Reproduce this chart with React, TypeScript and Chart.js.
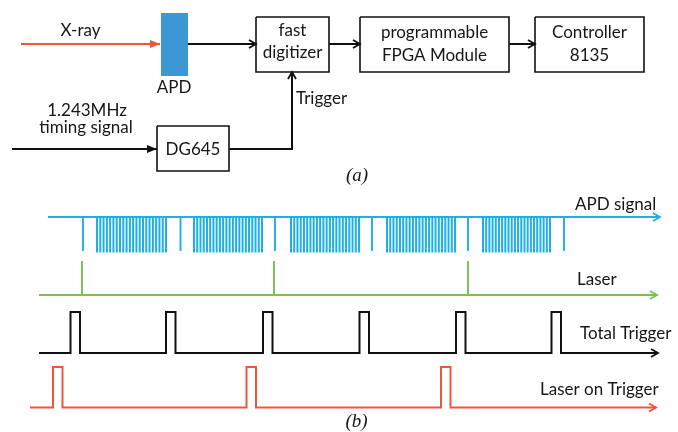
import React, { useEffect, useRef } from "react";
import { Chart, registerables } from "chart.js";

Chart.register(...registerables);

const W = 678;
const H = 432;

// ---------- (a) block diagram ----------
const blockLabels = ["fast|digitizer", "programmable|FPGA Module", "Controller|8135", "DG645"];
const blockLeft = [256, 360, 535, 157];
const blockRight = [329, 509, 644, 229];
const blockTop = [17, 17, 17, 126];
const blockBottom = [72, 72, 72, 171];
const blockTextY = [[31, 53], [33, 56], [33, 56], [150]];

// signal paths of the block diagram (x, y sequences)
const xrayPath = [[21, 44], [160, 44]];
const apdBox = [161, 13, 188, 76];
const wirePaths = [
  [[188, 44], [256, 44]],
  [[329, 44], [360, 44]],
  [[509, 44], [535, 44]],
  [[12, 149], [157, 149]],
  [[229, 149], [292, 149], [292, 72]],
];

// ---------- (b) timing diagram ----------
const apdSingleTimes = [83, 180.5, 275, 372, 468, 564];
const apdBurstStarts = [97, 194, 291, 387, 483];
const apdBurstEnds = [166, 262, 359, 455, 550];
const pulsesPerBurst = 22;
const laserTimes = [82, 274, 468];
const totalTriggerTimes = [70.5, 166, 263, 359.5, 456, 551.5];
const laserOnTriggerTimes = [53, 246.5, 441];
const triggerWidth = 9.5;

// rows: baseline y, start x, end x
const apdRow = { base: 217, start: 48, end: 660, low: 251, burstLow: 252.5 };
const laserRow = { base: 295, start: 39, end: 657, high: 261 };
const totalRow = { base: 353, start: 39, end: 658, high: 312 };
const laserTrigRow = { base: 407.5, start: 30, end: 656, high: 367 };

type P = { x: number; y: number };
const GAP: P = { x: NaN, y: NaN };

function joinSegs(list: number[][][]): P[] {
  const out: P[] = [];
  list.forEach((s, i) => {
    if (i) out.push(GAP);
    s.forEach(([x, y]) => out.push({ x, y }));
  });
  return out;
}

function stepWave(times: number[], width: number, x0: number, x1: number, low: number, high: number): P[] {
  const pts: P[] = [{ x: x0, y: low }];
  times.forEach((t) => {
    pts.push({ x: t, y: low }, { x: t, y: high }, { x: t + width, y: high }, { x: t + width, y: low });
  });
  pts.push({ x: x1, y: low });
  return pts;
}

function spikes(times: number[], y0: number, y1: number): number[][][] {
  return times.map((t) => [[t, y0], [t, y1]]);
}

function burstLines(): number[][][] {
  const out: number[][][] = [];
  apdBurstStarts.forEach((s, i) => {
    const e = apdBurstEnds[i];
    for (let k = 0; k < pulsesPerBurst; k++) {
      const t = s + ((e - s) * k) / (pulsesPerBurst - 1);
      out.push([[t, apdRow.base], [t, apdRow.burstLow]]);
    }
  });
  return out;
}

const boxPaths = blockLeft.map((l, i) => [
  [l, blockTop[i]],
  [blockRight[i], blockTop[i]],
  [blockRight[i], blockBottom[i]],
  [l, blockBottom[i]],
  [l, blockTop[i]],
]);

const BLUE = "#1cb0e4";
const GREEN = "#7ac04c";
const RED = "#f0553a";
const BLACK = "#111111";
const TEXT = "#161616";
const FONT = "Lato, 'Open Sans', sans-serif";
const FS = "17px";

type Arrow = { x: number; y: number; dir: "r" | "u"; color: string; filled: boolean };
const arrows: Arrow[] = [
  { x: 160, y: 44, dir: "r", color: RED, filled: true },
  { x: 256, y: 44, dir: "r", color: BLACK, filled: false },
  { x: 360, y: 44, dir: "r", color: BLACK, filled: false },
  { x: 535, y: 44, dir: "r", color: BLACK, filled: false },
  { x: 157, y: 149, dir: "r", color: BLACK, filled: true },
  { x: 292, y: 72, dir: "u", color: BLACK, filled: false },
  { x: apdRow.end, y: apdRow.base, dir: "r", color: BLUE, filled: false },
  { x: laserRow.end, y: laserRow.base, dir: "r", color: GREEN, filled: false },
  { x: totalRow.end, y: totalRow.base, dir: "r", color: BLACK, filled: false },
  { x: laserTrigRow.end, y: laserTrigRow.base, dir: "r", color: RED, filled: false },
];

type Label = { text: string; x: number; y: number; align: CanvasTextAlign; font: string };
const labels: Label[] = [
  { text: "X-ray", x: 80.5, y: 31, align: "center", font: `${FS} ${FONT}` },
  { text: "APD", x: 174, y: 88, align: "center", font: `${FS} ${FONT}` },
  { text: "1.243MHz", x: 87, y: 111, align: "center", font: `${FS} ${FONT}` },
  { text: "timing signal", x: 86, y: 128, align: "center", font: `${FS} ${FONT}` },
  { text: "Trigger", x: 296, y: 98.5, align: "left", font: `${FS} ${FONT}` },
  { text: "(a)", x: 357, y: 176, align: "center", font: `italic 19px 'Liberation Serif', serif` },
  { text: "APD signal", x: 575, y: 205, align: "left", font: `${FS} ${FONT}` },
  { text: "Laser", x: 577, y: 280, align: "left", font: `${FS} ${FONT}` },
  { text: "Total Trigger", x: 580, y: 334, align: "left", font: `${FS} ${FONT}` },
  { text: "Laser on Trigger", x: 540, y: 390, align: "left", font: `${FS} ${FONT}` },
  { text: "(b)", x: 356.5, y: 422, align: "center", font: `italic 19px 'Liberation Serif', serif` },
];

const overlayPlugin = {
  id: "overlay",
  beforeDatasetsDraw(chart: any) {
    const ctx: CanvasRenderingContext2D = chart.ctx;
    const xs = chart.scales.x;
    const ys = chart.scales.y;
    const [x0, y0, x1, y1] = apdBox;
    const px0 = xs.getPixelForValue(x0);
    const py0 = ys.getPixelForValue(y0);
    const px1 = xs.getPixelForValue(x1);
    const py1 = ys.getPixelForValue(y1);
    ctx.save();
    ctx.fillStyle = "#3c97d3";
    ctx.fillRect(px0, py0, px1 - px0, py1 - py0);
    ctx.restore();
  },
  afterDatasetsDraw(chart: any) {
    const ctx: CanvasRenderingContext2D = chart.ctx;
    const xs = chart.scales.x;
    const ys = chart.scales.y;
    ctx.save();
    arrows.forEach((a) => {
      const tx = xs.getPixelForValue(a.x);
      const ty = ys.getPixelForValue(a.y);
      const len = a.filled ? 10 : 7;
      const half = 4;
      let p1: [number, number], p2: [number, number];
      if (a.dir === "r") {
        p1 = [tx - len, ty - half];
        p2 = [tx - len, ty + half];
      } else {
        p1 = [tx - half, ty + len];
        p2 = [tx + half, ty + len];
      }
      ctx.beginPath();
      ctx.moveTo(p1[0], p1[1]);
      ctx.lineTo(tx, ty);
      ctx.lineTo(p2[0], p2[1]);
      if (a.filled) {
        ctx.closePath();
        ctx.fillStyle = a.color;
        ctx.fill();
      } else {
        ctx.strokeStyle = a.color;
        ctx.lineWidth = 1.8;
        ctx.lineJoin = "miter";
        ctx.stroke();
      }
    });
    ctx.fillStyle = TEXT;
    ctx.textBaseline = "middle";
    labels.forEach((l) => {
      ctx.font = l.font;
      ctx.textAlign = l.align;
      ctx.fillText(l.text, xs.getPixelForValue(l.x), ys.getPixelForValue(l.y));
    });
    blockLabels.forEach((txt, i) => {
      const lines = txt.split("|");
      const cx = xs.getPixelForValue((blockLeft[i] + blockRight[i]) / 2);
      ctx.font = `${FS} ${FONT}`;
      ctx.textAlign = "center";
      lines.forEach((ln, j) => {
        ctx.fillText(ln, cx, ys.getPixelForValue(blockTextY[i][j]));
      });
    });
    ctx.restore();
  },
};

function lineDs(data: P[], color: string, width: number) {
  return {
    data,
    borderColor: color,
    backgroundColor: color,
    borderWidth: width,
    showLine: true,
    pointRadius: 0,
    pointHoverRadius: 0,
    spanGaps: false,
    tension: 0,
    fill: false,
    borderJoinStyle: "miter" as const,
    borderCapStyle: "butt" as const,
  };
}

export default function App() {
  const ref = useRef<HTMLCanvasElement | null>(null);
  useEffect(() => {
    if (!ref.current) return;
    const chart = new Chart(ref.current, {
      type: "scatter",
      data: {
        datasets: [
          lineDs(joinSegs([xrayPath]), RED, 2),
          lineDs(joinSegs(wirePaths), BLACK, 2),
          lineDs(joinSegs(boxPaths), BLACK, 1.6),
          lineDs(joinSegs([[[apdRow.start, apdRow.base], [apdRow.end, apdRow.base]]]), BLUE, 2.2),
          lineDs(joinSegs(spikes(apdSingleTimes, apdRow.base, apdRow.low)), BLUE, 1.9),
          lineDs(joinSegs(burstLines()), BLUE, 2),
          lineDs(joinSegs([[[laserRow.start, laserRow.base], [laserRow.end, laserRow.base]]]), GREEN, 2.2),
          lineDs(joinSegs(spikes(laserTimes, laserRow.base, laserRow.high)), GREEN, 1.9),
          lineDs(stepWave(totalTriggerTimes, triggerWidth, totalRow.start, totalRow.end, totalRow.base, totalRow.high), BLACK, 2),
          lineDs(stepWave(laserOnTriggerTimes, triggerWidth, laserTrigRow.start, laserTrigRow.end, laserTrigRow.base, laserTrigRow.high), RED, 2),
        ] as any,
      },
      options: {
        responsive: false,
        maintainAspectRatio: false,
        animation: false,
        events: [],
        layout: { padding: 0 },
        plugins: { legend: { display: false }, tooltip: { enabled: false } },
        scales: {
          x: { type: "linear", display: false, min: 0, max: W },
          y: { type: "linear", display: false, min: 0, max: H, reverse: true },
        },
      },
      plugins: [overlayPlugin],
    });
    return () => chart.destroy();
  }, []);
  return (
    <div style={{ position: "fixed", left: 0, top: 0, width: W, height: H, background: "#fff" }}>
      <canvas ref={ref} width={W} height={H} style={{ display: "block" }} />
    </div>
  );
}
